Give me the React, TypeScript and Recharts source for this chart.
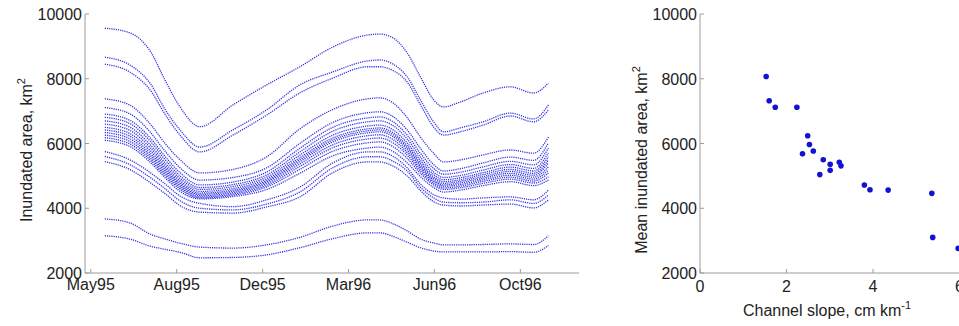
import { LineChart, Line, XAxis, YAxis, ScatterChart, Scatter } from 'recharts';

// sample days (days since 1 May 1995) at which each inundation curve is read
const DAYS = [27, 57, 82, 100, 118, 142, 182, 223, 263, 303, 345, 360, 376, 393, 409, 425, 437, 457, 485, 518, 546, 564];

// inundated area, km2, one row per sub-basin run
const AREA_CURVES: number[][] = [
  [9560, 9420, 8850, 7950, 7130, 6520, 7190, 7810, 8370, 8980, 9350, 9380, 9260, 8800, 8060, 7350, 7130, 7280, 7560, 7750, 7560, 7870],
  [8665, 8430, 7850, 7050, 6420, 5890, 6420, 7040, 7810, 8210, 8550, 8580, 8450, 8060, 7350, 6670, 6360, 6480, 6670, 6940, 6760, 7190],
  [8450, 8210, 7650, 6900, 6260, 5740, 6260, 6880, 7560, 8020, 8370, 8370, 8250, 7900, 7200, 6510, 6260, 6360, 6570, 6850, 6670, 7040],
  [7380, 7190, 6600, 6000, 5500, 5090, 5200, 5590, 6450, 7050, 7380, 7410, 7250, 6800, 6200, 5700, 5430, 5490, 5650, 5800, 5700, 6200],
  [7110, 6920, 6350, 5760, 5250, 4870, 4950, 5250, 6000, 6650, 6950, 6980, 6830, 6420, 5850, 5350, 5150, 5220, 5400, 5580, 5480, 6020],
  [6910, 6720, 6170, 5600, 5100, 4720, 4810, 5120, 5850, 6500, 6790, 6820, 6670, 6260, 5700, 5230, 5050, 5110, 5280, 5450, 5340, 5860],
  [6810, 6620, 6070, 5500, 5000, 4640, 4730, 5030, 5740, 6380, 6670, 6700, 6550, 6140, 5580, 5120, 4950, 5010, 5180, 5350, 5230, 5710],
  [6700, 6510, 5960, 5400, 4920, 4580, 4670, 4960, 5640, 6260, 6540, 6570, 6420, 6020, 5480, 5040, 4880, 4940, 5100, 5270, 5150, 5590],
  [6600, 6410, 5870, 5320, 4850, 4520, 4610, 4900, 5560, 6170, 6450, 6480, 6330, 5930, 5400, 4970, 4820, 4880, 5040, 5200, 5080, 5490],
  [6500, 6310, 5780, 5250, 4790, 4470, 4560, 4850, 5500, 6110, 6390, 6420, 6270, 5870, 5340, 4920, 4770, 4830, 4980, 5140, 5020, 5400],
  [6420, 6230, 5700, 5190, 4740, 4430, 4520, 4810, 5440, 6050, 6330, 6360, 6210, 5800, 5280, 4870, 4720, 4780, 4930, 5080, 4960, 5280],
  [6340, 6150, 5630, 5130, 4690, 4390, 4480, 4760, 5370, 5960, 6240, 6270, 6120, 5720, 5220, 4820, 4680, 4730, 4880, 5020, 4900, 5180],
  [6260, 6070, 5560, 5070, 4640, 4350, 4440, 4710, 5290, 5870, 6140, 6170, 6020, 5640, 5150, 4770, 4630, 4680, 4830, 4960, 4840, 5090],
  [6180, 5990, 5490, 5010, 4590, 4320, 4400, 4660, 5200, 5760, 6020, 6050, 5900, 5540, 5080, 4720, 4580, 4630, 4770, 4900, 4780, 4970],
  [6100, 5910, 5420, 4940, 4520, 4290, 4360, 4580, 5080, 5620, 5860, 5890, 5750, 5400, 4980, 4640, 4500, 4560, 4700, 4820, 4700, 4870],
  [5750, 5500, 5100, 4750, 4380, 4150, 4050, 4260, 4650, 5400, 5740, 5740, 5600, 5250, 4750, 4420, 4320, 4280, 4320, 4350, 4260, 4560],
  [5600, 5350, 4950, 4600, 4230, 4000, 3950, 4130, 4500, 5250, 5590, 5590, 5450, 5150, 4650, 4320, 4190, 4170, 4190, 4260, 4150, 4410],
  [5440, 5200, 4790, 4450, 4080, 3880, 3850, 4040, 4350, 5100, 5430, 5430, 5300, 5000, 4550, 4200, 4100, 4070, 4100, 4130, 4010, 4260],
  [3670, 3550, 3200, 3050, 2920, 2800, 2770, 2870, 3100, 3450, 3640, 3640, 3520, 3300, 3050, 2930, 2870, 2870, 2880, 2900, 2880, 3150],
  [3150, 3050, 2830, 2730, 2640, 2470, 2480, 2560, 2780, 3060, 3240, 3240, 3130, 2950, 2780, 2680, 2650, 2650, 2650, 2660, 2640, 2850],
];

const DATE_TICKS = [10, 114, 218, 322, 426, 530];
const DATE_LABELS = ['May95', 'Aug95', 'Dec95', 'Mar96', 'Jun96', 'Oct96'];
const AREA_TICKS = [2000, 4000, 6000, 8000, 10000];

// panel b: channel slope (cm/km) vs mean inundated area (km2)
const SLOPES = [1.53, 1.6, 1.74, 2.24, 2.49, 2.53, 2.62, 2.37, 2.85, 3.01, 3.01, 3.22, 3.26, 2.77, 3.8, 3.93, 4.35, 5.36, 5.38, 5.97];
const MEAN_AREAS = [8070, 7320, 7120, 7120, 6240, 5970, 5770, 5680, 5500, 5360, 5170, 5420, 5310, 5040, 4720, 4570, 4560, 4460, 3100, 2760];
const SLOPE_TICKS = [0, 2, 4, 6, 8];

const FRAME = '#9c9c9c';
const INK = '#222';
const LINE_BLUE = '#3434e4';
const DOT_BLUE = '#1212d2';
const FONT = '"Liberation Sans", Arial, Helvetica, sans-serif';

const curveRows = DAYS.map((day, i) => {
    const row: Record<string, number> = { day };
    AREA_CURVES.forEach((curve, k) => { row['s' + k] = curve[i]; });
    return row;
});

const scatterRows = SLOPES.map((slope, i) => ({ slope, area: MEAN_AREAS[i] }));

// MATLAB style ticks: short marks pointing into the box
const BottomTick = ({ x, y, payload, labels, dy }: any) => {
    const text = labels ? labels[payload.index] : String(payload.value);
    return (
        <g>
            <line x1={x} x2={x} y1={y} y2={y - 4} stroke={FRAME} />
            <text x={x} y={y + dy} textAnchor="middle" fontFamily={FONT} fontSize={16} fill={INK}>{text}</text>
        </g>
    );
};

const LeftTick = ({ x, y, payload }: any) => (
    <g>
        <line x1={x} x2={x + 4} y1={y} y2={y} stroke={FRAME} />
        <text x={x - 3} y={y + 6} textAnchor="end" fontFamily={FONT} fontSize={16} fill={INK}>{payload.value}</text>
    </g>
);

const TopTick = ({ x, y }: any) => <line x1={x} x2={x} y1={y} y2={y + 4} stroke={FRAME} />;
const RightTick = ({ x, y }: any) => <line x1={x} x2={x - 4} y1={y} y2={y} stroke={FRAME} />;

const Title = ({ tx, ty, rotate, main, sup }: any) => (
    <text transform={`translate(${tx},${ty})${rotate ? ' rotate(-90)' : ''}`} textAnchor="middle" fontFamily={FONT} fontSize={16} fill={INK}>
        {main}
        {sup && <tspan dy={-7} fontSize={11}>{sup}</tspan>}
    </text>
);

export default function App() {
    return (
        <div style={{ position: 'absolute', left: 0, top: 0, width: 959, height: 326, overflow: 'hidden', background: '#fff' }}>

            {/* a) inundated area time series */}
            <div style={{ position: 'absolute', left: 0, top: 0 }}>
                <LineChart width={600} height={326} data={curveRows} margin={{ top: 14, right: 21, bottom: 23, left: 25 }}>
                    <XAxis dataKey="day" type="number" domain={[3, 601]} ticks={DATE_TICKS} interval={0}
                        tickSize={0} tickMargin={0} tickLine={false} axisLine={{ stroke: FRAME }} height={30}
                        tick={(p: any) => <BottomTick {...p} labels={DATE_LABELS} dy={17} />} />
                    <XAxis xAxisId="top" orientation="top" dataKey="day" type="number" domain={[3, 601]} ticks={DATE_TICKS}
                        interval={0} tickSize={0} tickMargin={0} tickLine={false} axisLine={{ stroke: FRAME }} height={0}
                        tick={(p: any) => <TopTick {...p} />}
                        label={<Title tx={548} ty={52} main="a)" />} />
                    <YAxis type="number" domain={[2000, 10000]} ticks={AREA_TICKS} interval={0} width={60}
                        tickSize={0} tickMargin={0} tickLine={false} axisLine={{ stroke: FRAME }}
                        tick={(p: any) => <LeftTick {...p} />}
                        label={<Title tx={32} ty={150} rotate main="Inundated area, km" sup="2" />} />
                    <YAxis yAxisId="right" orientation="right" type="number" domain={[2000, 10000]} ticks={AREA_TICKS}
                        interval={0} width={0} tickSize={0} tickMargin={0} tickLine={false} axisLine={{ stroke: FRAME }}
                        tick={(p: any) => <RightTick {...p} />} />
                    {AREA_CURVES.map((_, k) => (
                        <Line key={k} dataKey={'s' + k} type="monotone" stroke={LINE_BLUE} strokeWidth={1.3}
                            strokeDasharray="1.2 1" dot={false} activeDot={false} isAnimationActive={false} />
                    ))}
                </LineChart>
            </div>

            {/* b) mean area against channel slope */}
            <div style={{ position: 'absolute', left: 600, top: 0 }}>
                <ScatterChart width={460} height={326} margin={{ top: 14, right: 14, bottom: 23, left: 40 }}>
                    <XAxis dataKey="slope" type="number" domain={[0, 8]} ticks={SLOPE_TICKS} interval={0}
                        tickSize={0} tickMargin={0} tickLine={false} axisLine={{ stroke: FRAME }} height={30}
                        tick={(p: any) => <BottomTick {...p} dy={19} />}
                        label={<Title tx={227} ty={316} main="Channel slope, cm km" sup="-1" />} />
                    <XAxis xAxisId="top" orientation="top" dataKey="slope" type="number" domain={[0, 8]} ticks={SLOPE_TICKS}
                        interval={0} tickSize={0} tickMargin={0} tickLine={false} axisLine={{ stroke: FRAME }} height={0}
                        tick={(p: any) => <TopTick {...p} />}
                        label={<Title tx={323} ty={52} main="b)" />} />
                    <YAxis dataKey="area" type="number" domain={[2000, 10000]} ticks={AREA_TICKS} interval={0} width={60}
                        tickSize={0} tickMargin={0} tickLine={false} axisLine={{ stroke: FRAME }}
                        tick={(p: any) => <LeftTick {...p} />}
                        label={<Title tx={47} ty={160} rotate main="Mean inundated area, km" sup="2" />} />
                    <Scatter data={scatterRows} isAnimationActive={false}
                        shape={(p: any) => <circle cx={p.cx} cy={p.cy} r={2.8} fill={DOT_BLUE} />} />
                </ScatterChart>
            </div>
        </div>
    );
}
